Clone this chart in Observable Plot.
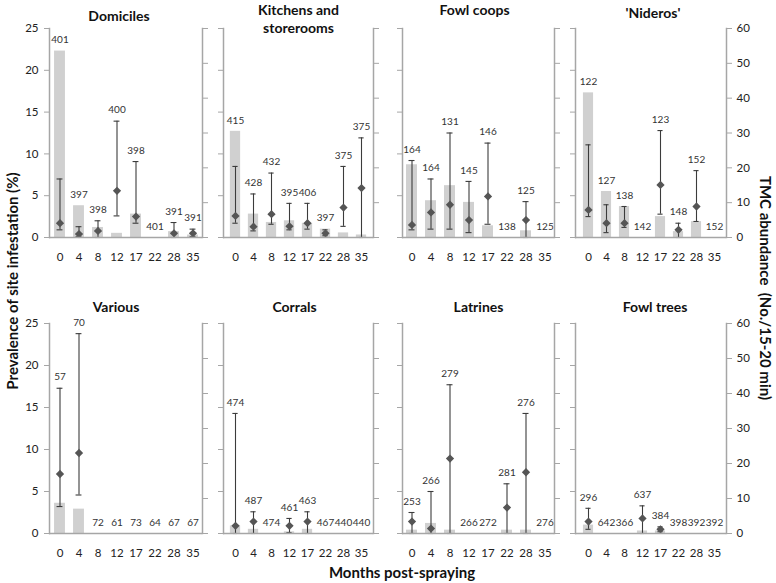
<!DOCTYPE html>
<html><head><meta charset="utf-8">
<script src="https://cdn.jsdelivr.net/npm/d3@7"></script>
<script src="https://cdn.jsdelivr.net/npm/@observablehq/plot@0.6"></script>
<style>
body{margin:0;background:#fff;}
#chart{position:relative;width:776px;height:583px;font-family:Lato,"Open Sans",sans-serif;color:#222;overflow:hidden;}
#chart svg{position:absolute;}
#chart g[aria-label="n-label"] text{letter-spacing:-0.45px;}
.ttl{position:absolute;font-weight:bold;font-size:15px;white-space:pre;color:#111;}
</style></head><body><div id="chart"></div>
<script>
// Months post-spraying (categories)
const months = ["0","4","8","12","17","22","28","35"];
const sites = ["Domiciles","Kitchens and\nstorerooms","Fowl coops","'Nideros'","Various","Corrals","Latrines","Fowl trees"];
// Prevalence of site infestation (%) - bars, left axis
const prevalence = [
  [22.3,3.8,1.2,0.5,2.8,0,0.7,0.3],
  [12.7,2.8,1.8,2.0,1.7,1.0,0.55,0.3],
  [8.7,4.4,6.2,4.2,1.4,0,0.8,0],
  [17.3,5.5,3.7,0,2.5,0.7,1.9,0],
  [3.6,2.9,0,0,0,0,0,0],
  [0.9,0.5,0,0.2,0.5,0,0,0],
  [0.4,1.2,0.4,0,0,0.4,0.4,0],
  [1.0,0,0,0.3,0.3,0,0,0]
];
// TMC abundance (No./15-20 min) - diamonds, right axis
const abundance = [
  [4.1,1.0,1.9,13.4,6.0,null,1.2,1.2],
  [6.2,3.1,6.7,3.2,4.1,1.2,8.6,14.2],
  [3.6,7.2,9.4,5.0,11.8,null,5.0,null],
  [7.9,4.1,4.1,null,15.1,2.2,8.9,null],
  [17.0,23.0,null,null,null,null,null,null],
  [2.2,3.4,null,2.2,3.4,null,null,null],
  [3.4,1.4,21.4,null,null,7.4,17.5,null],
  [3.4,null,null,4.3,1.2,null,null,null]
];
const ciLow = [
  [2.2,0.2,0,6.2,4.1,null,0,0.2],
  [4.1,1.9,3.8,2.2,2.4,0.5,3.2,0],
  [2.2,2.4,2.4,1.4,3.8,null,0,null],
  [6.0,1.4,2.9,null,6.7,0,4.6,null],
  [7.7,11.0,null,null,null,null,null,null],
  [0,0,null,0.2,0,null,null,null],
  [0,0,0,null,null,0,0,null],
  [1.2,null,null,0,0.5,null,null,null]
];
const ciHigh = [
  [16.8,3.1,4.8,33.4,21.8,null,4.3,2.4],
  [20.4,12.5,18.5,9.8,9.8,2.2,20.4,28.6],
  [22.1,16.8,30.0,16.1,27.1,null,10.3,null],
  [26.6,9.4,8.9,null,30.7,4.1,19.2,null],
  [41.5,57.1,null,null,null,null,null,null],
  [34.3,6.2,null,4.3,6.2,null,null,null],
  [6.0,12.0,42.5,null,null,14.2,34.3,null],
  [7.2,null,null,7.9,1.9,null,null,null]
];
// Number of sites inspected
const sampleN = [
  [401,397,398,400,398,401,391,391],
  [415,428,432,395,406,397,375,375],
  [164,164,131,145,146,138,125,125],
  [122,127,138,142,123,148,152,152],
  [57,70,72,61,73,64,67,67],
  [474,487,474,461,463,467,440,440],
  [253,266,279,266,272,281,276,276],
  [296,642,366,637,384,398,392,392]
];
const leftTicks = [0,5,10,15,20,25];
const rightTicks = [0,10,20,30,40,50,60];

// layout
const colLeft = [49,223,402,575], colRight = [202,373,554,726];
const rowTop = [28,323], rowBottom = [237,533];
const titleY = [15,18,9,12,306,306,306,306];
const titleDx = [-7,0,-4,2,-10,-4,0,4];
const M = {top:50, right:45, bottom:35, left:45};
const k = 25/60;
const axisCol = "#a6a6a6";
const chart = document.getElementById("chart");

sites.forEach((site, i) => {
  const r = Math.floor(i/4), c = i % 4;
  const w = colRight[c]-colLeft[c], h = rowBottom[r]-rowTop[r];
  const step = w / months.length;
  const barInset = (step - 11) / 2, capInset = (step - 6) / 2;
  const rows = months.map((m,j) => ({month:m, prev:prevalence[i][j], ab:abundance[i][j], lo:ciLow[i][j], hi:ciHigh[i][j], n:sampleN[i][j]}));
  const pts = rows.filter(d => d.ab != null);
  const svg = Plot.plot({
    width: w + M.left + M.right, height: h + M.top + M.bottom,
    marginTop: M.top, marginRight: M.right, marginBottom: M.bottom, marginLeft: M.left,
    style: {background:"transparent", overflow:"visible", fontFamily:"Lato, sans-serif", fontSize:"11.5px", color:"#222"},
    x: {domain: months, padding: 0, label: null},
    y: {domain: [0,25], label: null},
    marks: [
      Plot.barY(rows, {x:"month", y:"prev", fill:"#d0d0d0", insetLeft: barInset, insetRight: barInset}),
      Plot.ruleX(pts, {x:"month", y1: d => d.lo*k, y2: d => d.hi*k, stroke:"#3c3c3c", strokeWidth:1.1}),
      Plot.tickY(pts, {x:"month", y: d => d.hi*k, insetLeft:capInset, insetRight:capInset, stroke:"#3c3c3c", strokeWidth:1.1}),
      Plot.tickY(pts, {x:"month", y: d => d.lo*k, insetLeft:capInset, insetRight:capInset, stroke:"#3c3c3c", strokeWidth:1.1}),
      Plot.dot(pts, {x:"month", y: d => d.ab*k, symbol:"square", rotate:45, r:3.3, fill:"#555555", stroke:null}),
      Plot.text(rows, {x:"month", y: d => Math.max(d.prev, d.hi == null ? 0 : d.hi*k), text:"n", dy:-11, fontSize:10, fill:"#333", ariaLabel:"n-label"}),
      Plot.ruleY([0], {stroke: axisCol, strokeWidth:1.5}),
      Plot.frame({anchor:"left", stroke: axisCol, strokeWidth:1.5}),
      Plot.frame({anchor:"right", stroke: axisCol, strokeWidth:1.5}),
      Plot.axisY(leftTicks, {anchor:"left", tickSize:5, tickPadding:6, stroke: axisCol, fill:"#222", label:null,
        tickFormat: c === 0 ? d => d : () => ""}),
      Plot.axisY(rightTicks.map(v => v*k), {anchor:"right", tickSize:5, tickPadding:5, stroke: axisCol, fill:"#222", label:null,
        tickFormat: c === 3 ? d => Math.round(d/k) : () => ""}),
      Plot.axisX({tickSize:0, tickPadding:15, label:null, fill:"#222"}),
      Plot.text([site], {frameAnchor:"top", text: d => d, dy: titleY[i]-rowTop[r], dx: titleDx[i], lineAnchor:"middle", lineHeight:1.3, fontWeight:"bold", fontSize:14, fill:"#111"})
    ]
  });
  svg.style.left = (colLeft[c]-M.left)+"px";
  svg.style.top = (rowTop[r]-M.top)+"px";
  chart.appendChild(svg);
});

function addTitle(text, x, y, rot) {
  const d = document.createElement("div");
  d.className = "ttl";
  d.textContent = text;
  d.style.left = x+"px"; d.style.top = y+"px";
  d.style.transform = `translate(-50%,-50%) rotate(${rot}deg)`;
  chart.appendChild(d);
}
addTitle("Prevalence of site infestation (%)", 12, 281, -90);
addTitle("TMC abundance  (No./15-20 min)", 766, 288, 90);
addTitle("Months post-spraying", 402, 572, 0);
</script></body></html>
